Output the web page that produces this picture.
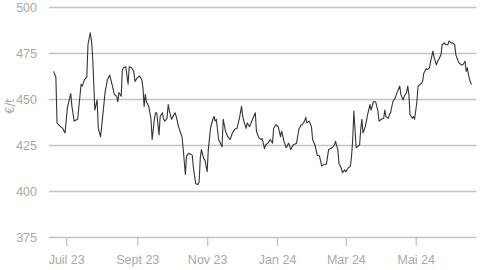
<!DOCTYPE html>
<html>
<head>
<meta charset="utf-8">
<script src="https://cdn.jsdelivr.net/npm/d3@7"></script>
<style>
  html, body { margin: 0; padding: 0; background: #fff; }
  svg { display: block; font-family: "Liberation Sans Narrow", "DejaVu Sans Condensed", "Roboto", sans-serif; }
</style>
</head>
<body>
<div id="chart"></div>
<script>
/** price dates */
const dates = [
  "2023-06-20", "2023-06-22", "2023-06-23", "2023-06-26", "2023-06-28", "2023-06-30",
  "2023-07-02", "2023-07-05", "2023-07-06", "2023-07-08", "2023-07-11", "2023-07-14",
  "2023-07-15", "2023-07-17", "2023-07-19", "2023-07-20", "2023-07-22", "2023-07-23",
  "2023-07-24", "2023-07-26", "2023-07-28", "2023-07-29", "2023-07-31", "2023-08-02",
  "2023-08-04", "2023-08-06", "2023-08-08", "2023-08-10", "2023-08-12", "2023-08-14",
  "2023-08-15", "2023-08-16", "2023-08-18", "2023-08-19", "2023-08-20", "2023-08-22",
  "2023-08-24", "2023-08-25", "2023-08-27", "2023-08-29", "2023-08-30", "2023-09-01",
  "2023-09-03", "2023-09-05", "2023-09-06", "2023-09-07", "2023-09-08", "2023-09-09",
  "2023-09-11", "2023-09-13", "2023-09-14", "2023-09-16", "2023-09-17", "2023-09-18",
  "2023-09-20", "2023-09-21", "2023-09-23", "2023-09-24", "2023-09-25", "2023-09-27",
  "2023-09-28", "2023-09-29", "2023-10-01", "2023-10-03", "2023-10-04", "2023-10-05",
  "2023-10-07", "2023-10-10", "2023-10-11", "2023-10-13", "2023-10-14", "2023-10-16",
  "2023-10-19", "2023-10-20", "2023-10-22", "2023-10-24", "2023-10-25", "2023-10-26",
  "2023-10-27", "2023-10-29", "2023-10-30", "2023-11-01", "2023-11-02", "2023-11-04",
  "2023-11-06", "2023-11-07", "2023-11-08", "2023-11-09", "2023-11-11", "2023-11-14",
  "2023-11-15", "2023-11-17", "2023-11-19", "2023-11-21", "2023-11-23", "2023-11-25",
  "2023-11-27", "2023-11-29", "2023-12-01", "2023-12-02", "2023-12-03", "2023-12-05",
  "2023-12-06", "2023-12-08", "2023-12-10", "2023-12-13", "2023-12-14", "2023-12-16",
  "2023-12-18", "2023-12-19", "2023-12-21", "2023-12-22", "2023-12-24", "2023-12-26",
  "2023-12-28", "2023-12-29", "2023-12-31", "2024-01-02", "2024-01-04", "2024-01-05",
  "2024-01-07", "2024-01-09", "2024-01-11", "2024-01-13", "2024-01-15", "2024-01-18",
  "2024-01-20", "2024-01-22", "2024-01-23", "2024-01-25", "2024-01-26", "2024-01-27",
  "2024-01-29", "2024-01-31", "2024-02-01", "2024-02-03", "2024-02-04", "2024-02-05",
  "2024-02-07", "2024-02-09", "2024-02-11", "2024-02-13", "2024-02-15", "2024-02-18",
  "2024-02-20", "2024-02-21", "2024-02-23", "2024-02-24", "2024-02-26", "2024-02-27",
  "2024-02-29", "2024-03-01", "2024-03-03", "2024-03-05", "2024-03-06", "2024-03-07",
  "2024-03-08", "2024-03-10", "2024-03-11", "2024-03-13", "2024-03-14", "2024-03-15",
  "2024-03-16", "2024-03-18", "2024-03-20", "2024-03-22", "2024-03-23", "2024-03-25",
  "2024-03-27", "2024-03-29", "2024-03-30", "2024-04-01", "2024-04-03", "2024-04-04",
  "2024-04-05", "2024-04-07", "2024-04-08", "2024-04-09", "2024-04-11", "2024-04-13",
  "2024-04-15", "2024-04-17", "2024-04-18", "2024-04-20", "2024-04-21", "2024-04-23",
  "2024-04-24", "2024-04-25", "2024-04-26", "2024-04-28", "2024-04-29", "2024-04-30",
  "2024-05-02", "2024-05-03", "2024-05-05", "2024-05-07", "2024-05-08", "2024-05-10",
  "2024-05-11", "2024-05-13", "2024-05-14", "2024-05-16", "2024-05-17", "2024-05-19",
  "2024-05-20", "2024-05-21", "2024-05-23", "2024-05-24", "2024-05-26", "2024-05-27",
  "2024-05-29", "2024-05-30", "2024-06-01", "2024-06-02", "2024-06-04", "2024-06-05",
  "2024-06-07", "2024-06-08", "2024-06-10", "2024-06-11", "2024-06-13", "2024-06-14",
  "2024-06-15", "2024-06-16", "2024-06-18", "2024-06-19",
];

/** price in €/t */
const prices = [
  465, 462, 437, 435, 434, 431.5,
  445, 453, 446, 438, 439, 458,
  457, 460.5, 462, 479.5, 486, 482,
  474, 444, 449.5, 434, 429.5, 441.5,
  454, 460.5, 463, 458, 452.5, 451.5,
  448.5, 453.5, 451.5, 466, 467, 467.5,
  458, 467.5, 467, 465, 459.5, 461.5,
  462.5, 460.5, 456, 446, 452.5, 448.5,
  446, 439, 428, 439.5, 442.5, 442.5,
  430.5, 440.5, 442.5, 439, 438, 439.5,
  447, 443.5, 439, 441.5, 442.5, 440.5,
  435, 429.5, 423.5, 409, 419, 420.5,
  419.5, 412.5, 404, 403.5, 405, 418,
  422.5, 417.5, 417, 410.5, 422.5, 434.5,
  439, 440.5, 438, 439, 428, 424,
  439, 432.5, 429.5, 428, 431.5, 433.5,
  434, 439, 446, 440.5, 438, 434,
  437, 435, 438, 442.5, 432.5, 429,
  428, 428.5, 423, 425, 426, 428,
  426, 434, 436, 435, 429.5, 432.5,
  427, 423.5, 426, 422.5, 425, 426,
  433.5, 436, 436, 438, 440, 437,
  438, 435, 428, 425, 422.5, 419.5,
  419, 413.5, 414.5, 414.5, 422.5, 423.5,
  425, 427, 422.5, 415, 412.5, 410,
  411.5, 410.5, 412.5, 413.5, 419, 428,
  443.5, 423.5, 424, 425, 433.5, 439,
  431.5, 435, 441.5, 447, 444, 448.5,
  448.5, 443.5, 438, 439, 439.5, 444,
  440.5, 439.5, 441.5, 442.5, 448.5, 450.5,
  454, 457, 452.5, 449.5, 451.5, 453.5,
  457, 452.5, 441.5, 439.5, 440.5, 439,
  448.5, 457, 458, 459.5, 464, 466.5,
  466, 467, 470.5, 476, 472.5, 468.5,
  470.5, 471.5, 474, 479.5, 480.5, 479.5,
  479.5, 481.5, 480.5, 480.5, 479.5, 474,
  470.5, 469.5, 468.5, 468.5, 470.5, 465,
  467, 463, 458.5, 458,
];

/** axis ticks */
const yTicks = [375, 400, 425, 450, 475, 500];
const xTicks = ["2023-07-01", "2023-09-01", "2023-11-01", "2024-01-01", "2024-03-01", "2024-05-01"];
const xTickLabels = ["Juil 23", "Sept 23", "Nov 23", "Jan 24", "Mar 24", "Mai 24"];
const xDomain = ["2023-06-16", "2024-06-23"];
const yDomain = [375, 500];
const yTitle = "€/t";

const width = 480;
const height = 270;
const margin = { top: 7, right: 3.5, bottom: 33, left: 49 };

const parse = d3.utcParse("%Y-%m-%d");
const data = dates.map((d, i) => ({ date: parse(d), value: prices[i] }));

const svg = d3
  .select("#chart")
  .append("svg")
  .attr("width", width)
  .attr("height", height);

/** scales */
const xScale = d3
  .scaleUtc()
  .domain(xDomain.map(parse))
  .range([margin.left, width - margin.right]);

const yScale = d3
  .scaleLinear()
  .domain(yDomain)
  .range([height - margin.bottom, margin.top]);

/** horizontal grid + y labels */
const yAxis = d3
  .axisLeft(yScale)
  .tickValues(yTicks)
  .tickSize(-(width - margin.left - margin.right))
  .tickPadding(12)
  .tickFormat(d3.format("d"));

svg
  .append("g")
  .attr("transform", `translate(${margin.left}, 0)`)
  .call(yAxis)
  .call((g) => g.select(".domain").remove())
  .call((g) =>
    g.selectAll(".tick line").attr("stroke", "#c4c4c4").attr("stroke-width", 1.3)
  )
  .call((g) =>
    g.selectAll(".tick text").attr("fill", "#a9a9a9").attr("font-size", 12.5)
  );

/** x axis */
const xAxis = d3
  .axisBottom(xScale)
  .tickValues(xTicks.map(parse))
  .tickSize(9)
  .tickPadding(9)
  .tickFormat((d, i) => xTickLabels[i]);

svg
  .append("g")
  .attr("transform", `translate(0, ${height - margin.bottom})`)
  .call(xAxis)
  .call((g) => g.select(".domain").remove())
  .call((g) =>
    g.selectAll(".tick line").attr("stroke", "#c4c4c4").attr("stroke-width", 1.3)
  )
  .call((g) =>
    g.selectAll(".tick text").attr("fill", "#a9a9a9").attr("font-size", 12.5)
  );

/** y title */
svg
  .append("text")
  .text(yTitle)
  .attr("transform", `translate(14, 106) rotate(-90)`)
  .attr("text-anchor", "middle")
  .attr("fill", "#a9a9a9")
  .attr("font-size", 12.5);

/** price line */
const line = d3
  .line()
  .x((d) => xScale(d.date))
  .y((d) => yScale(d.value));

svg
  .append("path")
  .attr("d", line(data))
  .attr("fill", "none")
  .attr("stroke", "#333")
  .attr("stroke-width", 1.1)
  .attr("stroke-linejoin", "round");
</script>
</body>
</html>
